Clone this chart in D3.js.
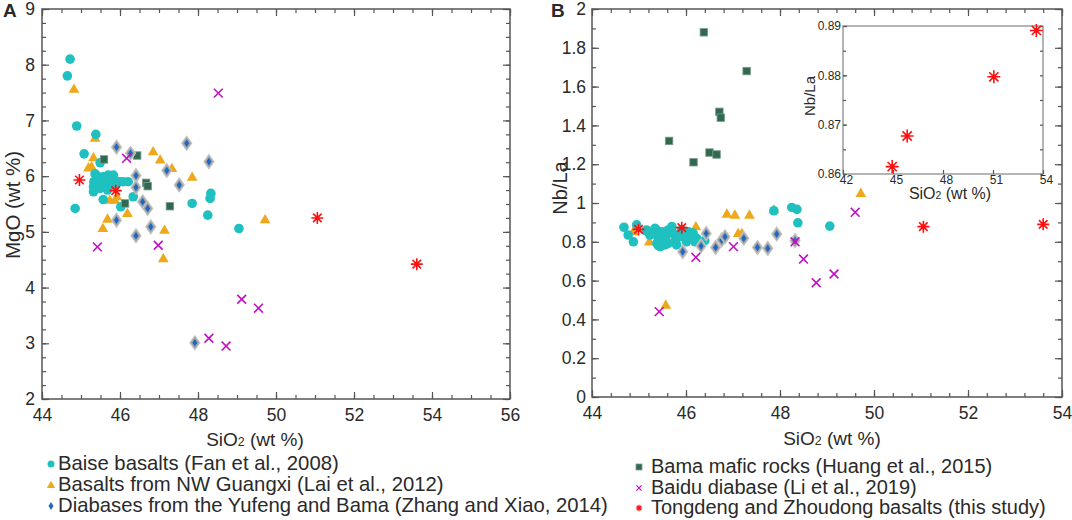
<!DOCTYPE html>
<html>
<head>
<meta charset="utf-8">
<script src="https://cdn.jsdelivr.net/npm/d3@7"></script>
<style>
  body { margin: 0; background: #fff; }
  text { font-family: "Liberation Sans", Arial, sans-serif; fill: #2a2a2a; }
</style>
</head>
<body>
<svg id="chart" width="1072" height="520"></svg>
<script>
// ---- data: panel A (SiO2 vs MgO) ----
var baiseA = [[44.72,8.10],[44.65,7.80],[44.89,6.90],[45.38,6.75],[45.08,6.40],[45.49,6.24],[44.85,5.42],
  [46.02,5.45],[47.85,5.51],[48.33,5.69],[48.31,5.60],[48.25,5.30],[49.05,5.06],
  [45.36,6.04],[45.33,5.90],[45.32,5.81],[45.32,5.72],[45.49,5.93],[45.57,5.99],[45.62,5.90],[45.70,6.02],
  [45.74,5.93],[45.83,6.02],[45.87,5.93],[45.66,5.81],[45.79,5.84],[45.91,5.87],[46.00,5.90],[46.08,5.90],
  [46.21,5.90],[45.57,5.58],[46.34,5.63],[45.68,5.75],[45.49,5.78],[45.42,6.00]];
var laiA = [[44.82,7.56],[45.36,6.68],[45.32,6.33],[45.19,6.15],[45.27,6.17],[46.85,6.44],[47.03,6.29],
  [47.33,6.14],[47.85,5.98],[45.74,5.57],[45.87,5.57],[45.92,5.63],[46.19,5.33],[45.68,5.23],[49.72,5.22],
  [45.56,5.06],[47.14,5.03],[47.11,4.52]];
var huangA = [[45.59,6.30],[46.44,6.37],[46.67,5.88],[46.71,5.82],[46.13,5.51],[47.28,5.46]];
var zhangA = [[45.91,6.52],[46.27,6.41],[47.71,6.59],[46.41,6.01],[46.41,5.80],[47.20,6.10],[47.52,5.84],
  [48.28,6.26],[46.58,5.54],[46.71,5.42],[45.91,5.21],[46.41,4.93],[46.79,5.09],[47.92,3.01]];
var liA = [[48.52,7.49],[46.17,6.32],[45.42,4.73],[46.98,4.76],[49.12,3.79],[49.55,3.63],[48.28,3.09],[48.72,2.95]];
var thisA = [[44.96,5.93],[45.89,5.74],[51.06,5.25],[53.61,4.42]];

// ---- data: panel B (SiO2 vs Nb/La) ----
var baiseB = [[44.68,0.875],[44.77,0.835],[44.88,0.800],[44.95,0.887],[45.15,0.856],[45.36,0.864],[45.41,0.780],
  [46.40,0.806],[46.23,0.818],[46.15,0.845],[47.87,0.960],[48.25,0.977],[48.36,0.967],[48.38,0.898],[49.06,0.881],
  [45.16,0.861],[45.34,0.869],[45.38,0.844],[45.41,0.818],[45.38,0.792],[45.45,0.775],[45.52,0.809],[45.59,0.835],
  [45.62,0.861],[45.70,0.878],[45.73,0.844],[45.77,0.809],[45.80,0.784],[45.87,0.826],[45.98,0.844],[46.05,0.852],
  [46.12,0.826],[46.19,0.800],[46.01,0.800],[45.62,0.792],[45.55,0.784],[45.23,0.835],[45.48,0.852],[45.91,0.861]];
var laiB = [[44.88,0.852],[45.22,0.800],[46.21,0.878],[46.87,0.943],[47.04,0.938],[47.35,0.938],[47.11,0.843],
  [47.19,0.843],[45.57,0.474],[47.87,0.965],[49.72,1.050]];
var huangB = [[46.38,1.88],[47.29,1.68],[46.71,1.47],[46.74,1.44],[45.64,1.32],[46.50,1.26],[46.65,1.25],[46.16,1.21]];
var zhangB = [[45.93,0.749],[46.43,0.843],[46.32,0.778],[46.63,0.771],[46.76,0.809],[46.83,0.826],[47.23,0.818],
  [47.52,0.771],[47.74,0.766],[47.93,0.840],[48.32,0.806]];
var liB = [[46.21,0.720],[45.43,0.440],[47.01,0.775],[48.32,0.800],[49.60,0.952],[48.50,0.711],[49.15,0.634],[48.77,0.589]];
var thisB = [[44.99,0.864],[45.91,0.873],[51.05,0.878],[53.60,0.890]];
var thisInset = [[44.95,0.8615],[45.85,0.8677],[51.05,0.8797],[53.60,0.8891]];

// ---- ticks ----
var xTicksA = [44, 46, 48, 50, 52, 54, 56];
var yTicksA = [2, 3, 4, 5, 6, 7, 8, 9];
var xTicksB = [44, 46, 48, 50, 52, 54];
var yTicksB = [0, 0.2, 0.4, 0.6, 0.8, 1, 1.2, 1.4, 1.6, 1.8, 2];
var yLabelsB = ['0', '0.2', '0.4', '0.6', '0.8', '1', '1.2', '1.4', '1.6', '1.8', '2'];
var xTicksInset = [42, 45, 48, 51, 54];
var yTicksInset = [0.86, 0.87, 0.88, 0.89];

var legendLeft = ['Baise basalts (Fan et al., 2008)', 'Basalts from NW Guangxi (Lai et al., 2012)',
  'Diabases from the Yufeng and Bama (Zhang and Xiao, 2014)'];
var legendRight = ['Bama mafic rocks (Huang et al., 2015)', 'Baidu diabase (Li et al., 2019)',
  'Tongdeng and Zhoudong basalts (this study)'];

var svg = d3.select('#chart');
var axisColor = '#555';

function range(a, b, step) {
  var out = [];
  for (var v = a; v <= b + 1e-9; v += step) out.push(+v.toFixed(4));
  return out;
}

// frame with inward ticks on all four sides
function drawFrame(g, x, y, o) {
  var xr = x.range(), yr = y.range();
  var w = xr[1] - xr[0], h = yr[0] - yr[1];

  function style(sel) {
    sel.select('.domain').remove();
    sel.selectAll('line').attr('stroke', axisColor).attr('stroke-width', 1.2);
    sel.selectAll('text').attr('fill', '#2a2a2a').style('font-size', o.fontSize + 'px')
      .style('font-family', '"Liberation Sans", Arial, sans-serif');
  }

  g.append('g').attr('transform', 'translate(0,' + yr[0] + ')')
    .call(d3.axisBottom(x).tickValues(o.xMinor).tickSize(-o.minor).tickFormat('')).call(style);
  g.append('g').attr('transform', 'translate(0,' + yr[1] + ')')
    .call(d3.axisTop(x).tickValues(o.xMinor).tickSize(-o.minor).tickFormat('')).call(style);
  g.append('g').attr('transform', 'translate(' + xr[0] + ',0)')
    .call(d3.axisLeft(y).tickValues(o.yMinor).tickSize(-o.minor).tickFormat('')).call(style);
  g.append('g').attr('transform', 'translate(' + xr[1] + ',0)')
    .call(d3.axisRight(y).tickValues(o.yMinor).tickSize(-o.minor).tickFormat('')).call(style);

  var bx = g.append('g').attr('transform', 'translate(0,' + yr[0] + ')')
    .call(d3.axisBottom(x).tickValues(o.xMajor).tickSize(-o.major).tickPadding(o.xPad).tickFormat(o.xFormat || d3.format('d')))
    .call(style);
  if (o.xShift) bx.selectAll('text').attr('dx', o.xShift);
  g.append('g').attr('transform', 'translate(' + xr[0] + ',0)')
    .call(d3.axisLeft(y).tickValues(o.yMajor).tickSize(-o.major).tickPadding(o.yPad).tickFormat(o.yFormat || d3.format('d')))
    .call(style);
  if (o.allSides) {
    g.append('g').attr('transform', 'translate(0,' + yr[1] + ')')
      .call(d3.axisTop(x).tickValues(o.xMajor).tickSize(-o.major).tickFormat('')).call(style);
    g.append('g').attr('transform', 'translate(' + xr[1] + ',0)')
      .call(d3.axisRight(y).tickValues(o.yMajor).tickSize(-o.major).tickFormat('')).call(style);
  }

  g.append('rect').attr('x', xr[0]).attr('y', yr[1]).attr('width', w).attr('height', h)
    .attr('fill', 'none').attr('stroke', o.frameColor || axisColor).attr('stroke-width', o.frameWidth || 1.5);
}

// ---- marker painters ----
function circles(g, data, x, y, r) {
  g.selectAll(null).data(data).enter().append('circle')
    .attr('cx', function(d) { return x(d[0]); }).attr('cy', function(d) { return y(d[1]); })
    .attr('r', r).attr('fill', '#1fc0c0');
}
function triangles(g, data, x, y, size) {
  g.selectAll(null).data(data).enter().append('path')
    .attr('d', d3.symbol(d3.symbolTriangle, size))
    .attr('transform', function(d) { return 'translate(' + x(d[0]) + ',' + (y(d[1]) + 0.5) + ')'; })
    .attr('fill', '#eea81c');
}
function squares(g, data, x, y, s) {
  g.selectAll(null).data(data).enter().append('rect')
    .attr('x', function(d) { return x(d[0]) - s / 2; }).attr('y', function(d) { return y(d[1]) - s / 2; })
    .attr('width', s).attr('height', s)
    .attr('fill', '#2f6a50').attr('stroke', '#7d9c8e').attr('stroke-width', 0.8);
}
function diamonds(g, data, x, y, w, h, halo) {
  var sel = g.selectAll(null).data(data).enter().append('g')
    .attr('transform', function(d) { return 'translate(' + x(d[0]) + ',' + y(d[1]) + ')'; });
  if (halo) {
    sel.append('path').attr('d', 'M0,' + (-h / 2) + 'L' + (w / 2) + ',0L0,' + (h / 2) + 'L' + (-w / 2) + ',0Z')
      .attr('fill', '#a2a2a2').attr('stroke', '#c4c4c4').attr('stroke-width', 1.2);
  }
  var iw = halo ? w * 0.5 : w, ih = halo ? h * 0.55 : h;
  sel.append('path').attr('d', 'M0,' + (-ih / 2) + 'L' + (iw / 2) + ',0L0,' + (ih / 2) + 'L' + (-iw / 2) + ',0Z')
    .attr('fill', '#1d68c2');
}
function crosses(g, data, x, y, r, sw) {
  g.selectAll(null).data(data).enter().append('path')
    .attr('d', 'M' + (-r) + ',' + (-r) + 'L' + r + ',' + r + 'M' + (-r) + ',' + r + 'L' + r + ',' + (-r))
    .attr('transform', function(d) { return 'translate(' + x(d[0]) + ',' + y(d[1]) + ')'; })
    .attr('stroke', '#c310c3').attr('stroke-width', sw).attr('fill', 'none');
}
function stars(g, data, x, y, r, sw) {
  var a = r * Math.SQRT1_2;
  var p = 'M' + (-r) + ',0L' + r + ',0M0,' + (-r) + 'L0,' + r +
    'M' + (-a) + ',' + (-a) + 'L' + a + ',' + a + 'M' + (-a) + ',' + a + 'L' + a + ',' + (-a);
  var sel = g.selectAll(null).data(data).enter().append('g')
    .attr('transform', function(d) { return 'translate(' + x(d[0]) + ',' + y(d[1]) + ')'; });
  sel.append('path').attr('d', p).attr('stroke', '#ff1010').attr('stroke-width', sw).attr('fill', 'none');
  sel.append('circle').attr('r', r * 0.35).attr('fill', '#ff1010');
}

function siO2(g, cx, by, size) {
  var t = g.append('text').attr('x', cx).attr('y', by).attr('text-anchor', 'middle').style('font-size', size + 'px');
  t.append('tspan').text('SiO');
  t.append('tspan').text('2').style('font-size', (size * 0.65) + 'px');
  t.append('tspan').text(' (wt %)');
}

// ---- panel A ----
var xA = d3.scaleLinear().domain([44, 56]).range([42, 510]);
var yA = d3.scaleLinear().domain([2, 9]).range([399, 9]);
var gA = svg.append('g');
drawFrame(gA, xA, yA, {
  xMajor: xTicksA, yMajor: yTicksA, xMinor: range(44, 56, 0.5), yMinor: range(2, 9, 0.25),
  major: 7, minor: 4, xPad: 10, yPad: 7, fontSize: 17.5, allSides: true
});
triangles(gA, laiA, xA, yA, 50);
circles(gA, baiseA, xA, yA, 4.8);
squares(gA, huangA, xA, yA, 7.5);
diamonds(gA, zhangA, xA, yA, 10, 14, true);
crosses(gA, liA, xA, yA, 4.4, 1.6);
stars(gA, thisA, xA, yA, 6, 1.6);

gA.append('text').attr('transform', 'translate(20,205) rotate(-90)').attr('text-anchor', 'middle')
  .style('font-size', '20.5px').text('MgO (wt %)');
siO2(gA, 255, 446, 19);
gA.append('text').attr('x', 3).attr('y', 17).style('font-size', '19px').style('font-weight', 'bold').text('A');

// ---- panel B ----
var xB = d3.scaleLinear().domain([44, 54]).range([592, 1062]);
var yB = d3.scaleLinear().domain([0, 2]).range([397, 9]);
var gB = svg.append('g');
drawFrame(gB, xB, yB, {
  xMajor: xTicksB, yMajor: yTicksB, xMinor: range(44, 54, 0.4), yMinor: range(0, 2, 0.1),
  major: 7, minor: 4, xPad: 10, yPad: 6, fontSize: 17.5, allSides: true,
  yFormat: function(d, i) { return yLabelsB[i]; }
});
triangles(gB, laiB, xB, yB, 50);
circles(gB, baiseB, xB, yB, 4.8);
squares(gB, huangB, xB, yB, 7.5);
diamonds(gB, zhangB, xB, yB, 10, 14, true);
crosses(gB, liB, xB, yB, 4.4, 1.6);
stars(gB, thisB, xB, yB, 6, 1.6);

gB.append('text').attr('transform', 'translate(567,188) rotate(-90)').attr('text-anchor', 'middle')
  .style('font-size', '20px').text('Nb/La');
siO2(gB, 832, 445, 19);
gB.append('text').attr('x', 551).attr('y', 17).style('font-size', '19px').style('font-weight', 'bold').text('B');

// ---- inset ----
var xI = d3.scaleLinear().domain([42, 54]).range([843, 1043]);
var yI = d3.scaleLinear().domain([0.86, 0.89]).range([174, 26]);
var gI = svg.append('g');
gI.append('rect').attr('x', 843).attr('y', 26).attr('width', 200).attr('height', 148).attr('fill', '#fff');
drawFrame(gI, xI, yI, {
  xMajor: xTicksInset, yMajor: yTicksInset, xMinor: [], yMinor: range(0.86, 0.89, 0.005),
  major: 4, minor: 3, xPad: 1, yPad: 2, fontSize: 12, allSides: false, xShift: 3,
  yFormat: d3.format('.2f'), frameColor: '#6a6a6a', frameWidth: 1
});
stars(gI, thisInset, xI, yI, 6.5, 1.6);
gI.append('text').attr('transform', 'translate(815,96) rotate(-90)').attr('text-anchor', 'middle')
  .style('font-size', '15px').text('Nb/La');
siO2(gI, 950, 199, 16);

// ---- legends ----
var legL = svg.append('g');
var legLY = [470, 491, 512];
legL.selectAll('text').data(legendLeft).enter().append('text')
  .attr('x', 58).attr('y', function(d, i) { return legLY[i]; }).style('font-size', '20.3px').text(function(d) { return d; });
circles(legL, [[0, 0]], function() { return 51; }, function() { return legLY[0] - 6; }, 3.5);
triangles(legL, [[0, 0]], function() { return 51; }, function() { return legLY[1] - 6; }, 30);
diamonds(legL, [[0, 0]], function() { return 51; }, function() { return legLY[2] - 6; }, 5, 8, false);

var legR = svg.append('g');
var legRY = [473, 494, 514];
legR.selectAll('text').data(legendRight).enter().append('text')
  .attr('x', 651).attr('y', function(d, i) { return legRY[i]; }).style('font-size', '20px').text(function(d) { return d; });
squares(legR, [[0, 0]], function() { return 639; }, function() { return legRY[0] - 6; }, 6);
crosses(legR, [[0, 0]], function() { return 639; }, function() { return legRY[1] - 6; }, 2.6, 1.2);
stars(legR, [[0, 0]], function() { return 639; }, function() { return legRY[2] - 6; }, 3.2, 1.2);
</script>
</body>
</html>
